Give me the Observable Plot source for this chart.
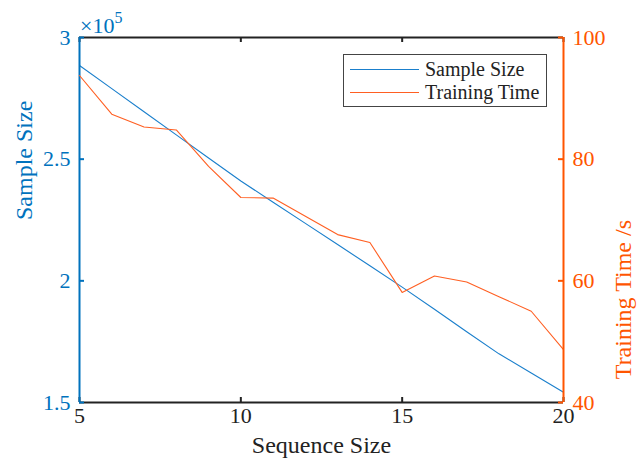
<!DOCTYPE html>
<html><head><meta charset="utf-8">
<script src="https://cdn.jsdelivr.net/npm/d3@7"></script>
<script src="https://cdn.jsdelivr.net/npm/@observablehq/plot@0.6"></script>
<style>
body{margin:0;background:#fff}
#wrap{position:relative;width:638px;height:468px;font-family:"Liberation Serif","Times New Roman",serif}
#wrap svg{position:absolute;left:0;top:0}
#exp{position:absolute;left:80px;top:15px;font-size:22px;color:#0072BD;line-height:1;white-space:nowrap}
#exp sup{font-size:16px;position:relative;top:-5px;vertical-align:top}
#legend{position:absolute;left:343px;top:54px;width:202px;height:51px;border:1px solid #444;background:#fff;font-size:20px;color:#222}
.li{position:absolute;left:6px;height:20px;display:flex;align-items:center}
.li span.sw{display:inline-block;width:69px;height:0;border-top:1.2px solid;margin-right:6px}
</style></head><body><div id="wrap"><div id="legend"></div><div id="exp">×10<sup>5</sup></div></div>
<script>
const seqSize = [5, 6, 7, 8, 9, 10, 11, 12, 13, 14, 15, 16, 17, 18, 19, 20];
const sampleSize = [288500, 279000, 269500, 260000, 250500, 241000, 232300, 223600, 214900, 206200, 197400, 188300, 179100, 170000, 162100, 154200];
const trainingTime = [93.75, 87.4, 85.3, 84.8, 78.8, 73.7, 73.6, 70.6, 67.6, 66.3, 58.1, 60.8, 59.8, 57.4, 55.0, 48.7];
const xTicks = [5, 10, 15, 20];
const leftTicks = [150000, 200000, 250000, 300000];
const rightTicks = [40, 60, 80, 100];
const seriesNames = ["Sample Size", "Training Time"];
const xLabel = "Sequence Size";
const leftLabel = "Sample Size";
const rightLabel = "Training Time /s";

const FF = "Liberation Serif";
const blue = "#0072BD", blueLine = "#1a7fcc", orange = "#ff5500", orangeLine = "#ff5f22";
const W = 638, H = 468, mL = 79, mR = 75, mT = 37, mB = 66;
const fw = W - mL - mR, fh = H - mT - mB, tl = 5;
const rowsA = seqSize.map((s, i) => ({s, v: sampleSize[i]}));
const rowsB = seqSize.map((s, i) => ({s, v: trainingTime[i]}));
const common = {
  width: W, height: H, marginLeft: mL, marginRight: mR, marginTop: mT, marginBottom: mB,
  x: {domain: [5, 20], axis: null},
  style: {fontSize: "22px", fontFamily: FF, background: "transparent", overflow: "visible"}
};

const p1 = Plot.plot({
  ...common,
  y: {domain: [150000, 300000], axis: null},
  marks: [
    Plot.line(rowsA, {x: "s", y: "v", stroke: blueLine, strokeWidth: 1.1}),
    Plot.ruleY([150000, 300000], {stroke: "#222", strokeWidth: 2}),
    Plot.tickX(xTicks, {x: d => d, insetTop: fh - tl, stroke: "#222", strokeWidth: 2}),
    Plot.tickX(xTicks, {x: d => d, insetBottom: fh - tl, stroke: "#222", strokeWidth: 2}),
    Plot.ruleX([5], {stroke: blue, strokeWidth: 2}),
    Plot.tickY(leftTicks, {y: d => d, insetRight: fw - tl, stroke: blue, strokeWidth: 2}),
    Plot.axisX(xTicks, {anchor: "bottom", tickSize: 0, tickPadding: 5, label: null, fill: "#222", fontSize: 22, fontFamily: FF}),
    Plot.axisY(leftTicks, {anchor: "left", tickSize: 0, tickPadding: 9, label: null, fill: blue, fontSize: 22, fontFamily: FF, tickFormat: d => String(d / 1e5)}),
    Plot.text([leftLabel], {frameAnchor: "left", text: d => d, rotate: -90, dx: -55, fill: blue, fontSize: 24, fontFamily: FF}),
    Plot.text([xLabel], {frameAnchor: "bottom", text: d => d, dy: 50, fill: "#222", fontSize: 24, fontFamily: FF})
  ]
});

const p2 = Plot.plot({
  ...common,
  y: {domain: [40, 100], axis: null},
  marks: [
    Plot.line(rowsB, {x: "s", y: "v", stroke: orangeLine, strokeWidth: 1.1}),
    Plot.ruleX([20], {stroke: orange, strokeWidth: 2}),
    Plot.tickY(rightTicks, {y: d => d, insetLeft: fw - tl, stroke: orange, strokeWidth: 2}),
    Plot.axisY(rightTicks, {anchor: "right", tickSize: 0, tickPadding: 9, label: null, fill: orange, fontSize: 22, fontFamily: FF}),
    Plot.text([rightLabel], {frameAnchor: "right", text: d => d, rotate: -90, dx: 60, fill: orange, fontSize: 24, fontFamily: FF})
  ]
});

const wrap = document.getElementById("wrap");
wrap.insertBefore(p2, wrap.firstChild);
wrap.insertBefore(p1, wrap.firstChild);
for (const el of document.querySelectorAll("#wrap svg text, #wrap svg tspan")) {
  el.setAttribute("font-family", FF);
  el.style.fontFamily = "'Liberation Serif', serif";
}

const legend = document.getElementById("legend");
const colors = [blueLine, orangeLine];
seriesNames.forEach((n, i) => {
  const d = document.createElement("div");
  d.className = "li";
  d.style.top = (4 + i * 23) + "px";
  d.innerHTML = `<span class="sw" style="border-color:${colors[i]}"></span><span>${n}</span>`;
  legend.appendChild(d);
});
</script></body></html>
